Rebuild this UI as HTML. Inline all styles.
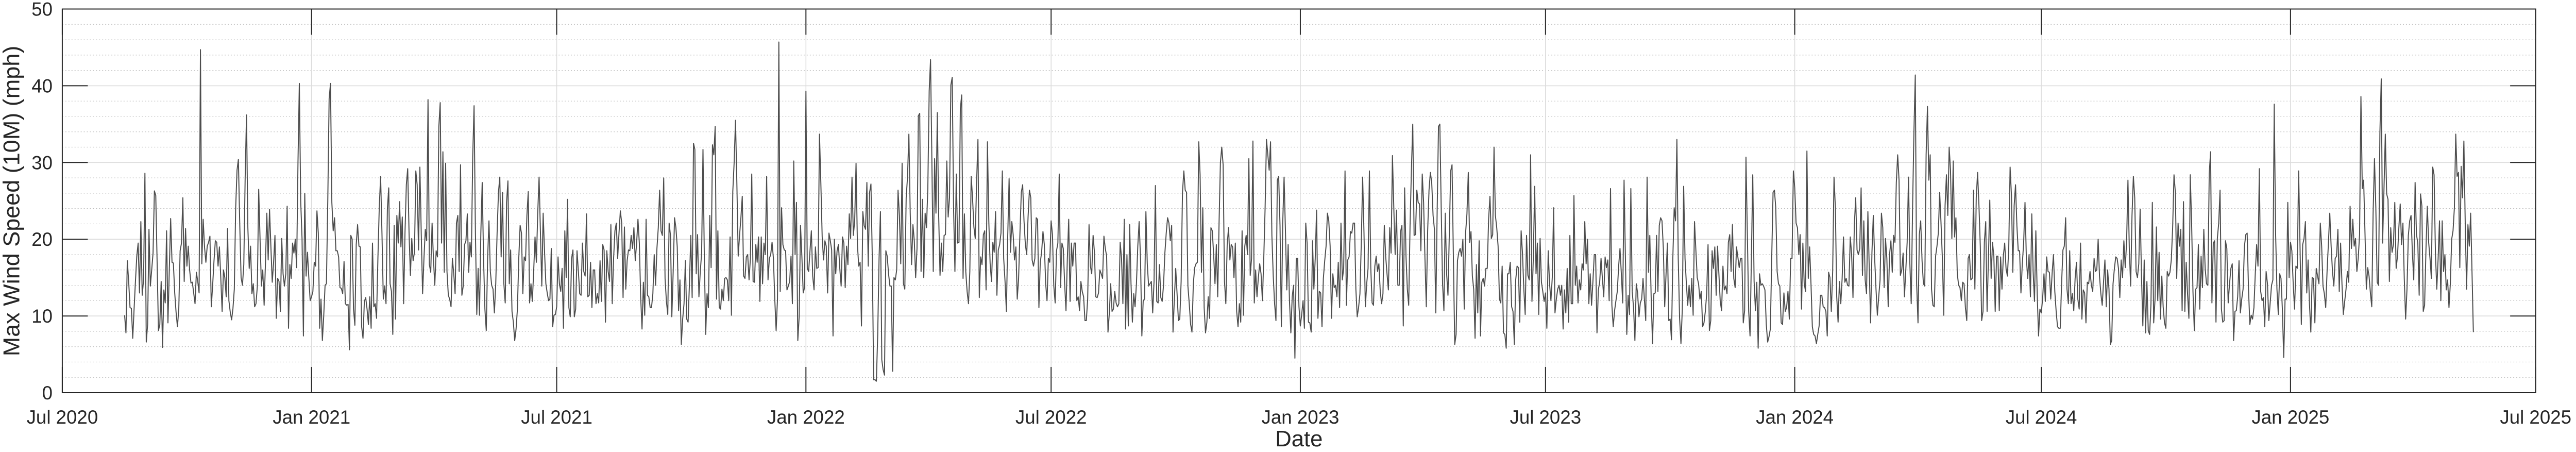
<!DOCTYPE html>
<html><head><meta charset="utf-8">
<style>
html,body{margin:0;padding:0;background:#fff;overflow:hidden;width:100%;height:100%;}
svg{display:block;position:fixed;left:0;top:0;width:100vw;height:100vh;font-family:"Liberation Sans",Arial,sans-serif;}
</style></head>
<body>
<svg id="chart" viewBox="0 0 5045 877" preserveAspectRatio="none" xmlns="http://www.w3.org/2000/svg">
<g id="grid"></g>
<g id="series"></g>
<g id="axes"></g>
<text x="0" y="0" transform="translate(38,390) rotate(-90)" text-anchor="middle" font-size="45" fill="#262626">Max Wind Speed (10M) (mph)</text>
<text x="2544" y="866" text-anchor="middle" font-size="44" fill="#262626">Date</text>
</svg>
<script>
const startDay = 46; // days after Jul 1 2020 of first observation
const yTicks = [0,10,20,30,40,50];
const xTickDays = [0,184,365,549,730,914,1095,1279,1461,1645,1826];
const xTickLabels = ["Jul 2020","Jan 2021","Jul 2021","Jan 2022","Jul 2022","Jan 2023","Jul 2023","Jan 2024","Jul 2024","Jan 2025","Jul 2025"];
const speeds2020 = [10.1,7.8,17.2,14.5,11.1,11,7.1,10.9,14.5,17.8,19.5,13,22.3,12.7,14.7,28.6,6.6,8.9,21.3,13.9,16,18.2,26.3,25.7,17,8.1,8.9,14.5,5.9,13.4,11.7,21.1,9.1,16,22.7,17,16.9,13,10.5,8.6,10.9,18.5,19.5,25.4,14.5,21.4,16.5,19.1,16,14.3,14.4,13,11.6,15.7,14.5,13,44.7,16.8,22.6,19,17,19.1,19.6,20.4,11.2,14,17.2,19.8,19.6,16.5,19,15,10.6,16,15,12.5,21.4,12,10.5,9.5,11,13.5,24.1,29,30.4,22,15,14,16.7,28,36.2,21.5,16.2,19.1,12.9,14.2,11.2,11.6,13.9,26.5,20,13.9,16,11.4,17,23.4,17.3,23.9,19,14.4,17,20.5,9.7,14.9,14.5,10.6,20.1,15.5,13.9,15.5,24.3,8.4,16.7,14.9,19.5,18.2,20,16.3,30,40.3,25,20.1,7.4,26,15.2,18.3,15,12,12.5,13.2,17,16.5,23.7,20.8,8.4,12.2,6.8,10,14,14.2,25,38.3,40.3,24.8,21.1,22.8,18.5,18.5,17.7,13.7,13.6,12.9,17.1,11.6,11.4,11.5,5.6,20.5,20,10.9,8.8,19.3,21.9,19.1,19];
const speeds2021 = [8.6,7.1,11.9,12.4,10.9,8.9,12.5,8.4,19.5,11.2,11.6,9.7,17.5,24.1,28.2,20.8,12.2,13.9,11.6,23.9,26.7,14.2,13.2,7.6,21.8,9.6,23.1,19.5,24.9,19,22.9,11.6,20.8,27.1,29.2,20.8,15.3,20.1,17.2,18.3,28.9,27.1,18.6,29.4,20.8,12.9,17.5,21.3,19.8,38.2,16.7,15.7,22.1,17.5,14,18.5,17.7,34.7,37.8,19.5,31.4,15.7,29.9,15.8,12.7,12.2,11.2,17.5,15.5,12.9,22.1,23.1,15.8,29.7,12.7,13.9,19.3,19.8,23.3,15.7,19.6,17.7,30.7,37.4,20.8,10.2,16.2,10.1,20.8,27.4,17.5,10.9,8.1,17.5,22.4,15.8,14,13.5,10.4,14.2,20.8,26.1,28.1,17.7,26.1,14.2,11.7,24.8,27.6,14.2,18.6,10.6,9.2,6.8,8.3,10.9,17.5,21.8,20.8,12.9,17.7,17.2,23.1,26.2,11.7,14.2,11.9,15.8,20.3,17,23.4,28.1,20.8,13.9,23.4,18.5,14.2,13,12,12.2,18.8,8.6,10.1,10.2,11.2,17.7,14.2,13.2,16.2,8.4,21.1,15,25.2,11.1,9.9,17.5,18.6,9.9,10.9,18.5,15.8,12.9,12.7,19.5,15.8,15.2,23.3,12.5,12.7,17,11.1,16];
const speeds2021b = [16,11.6,12.9,11.7,17.2,11.9,19.3,18.6,9.2,18.5,15.8,14.5,21.9,11.6,17.5,21.1,22.1,17.5,20.8,23.7,22.1,12.4,21.6,13.5,17.2,18.6,18.5,20.5,18.8,21.5,17.2,19.5,22.6,19.5,12.5,8.3,14.4,10.1,22.6,12.7,12.5,11.1,11.1,12.9,18,14,18.8,21.5,26.4,21.1,20.5,28,14.9,11.9,10.2,22.1,20.5,9.9,15.8,22.8,21.5,19,10.7,14.7,6.3,9.6,11.6,17.2,9.6,9.2,14.2,20.5,12.4,32.5,31.7,15.5,20.6,12.5,15.8,18.2,31.7,17.5,7.6,12.9,11.1,23.1,16.3,32.3,31,34.7,12.2,21.1,11.1,10.9,13.5,12,14.9,15,14.7,12,20.3,10.1,26.2,30,35.5,27.4,17.8,20.5,22.8,25.6,15.2,14.9,17.7,18,14.7,17.5,28.5,14.5,14.4,19.3,17,20.3,11.9,20.3,14.2,19.5,18,28.2,14.7,17.5,18,19.6,17.5,12.2,8.1,12.2,45.7,13.2,24.1,19.3,18.6,18.5,13.4,13.9,14.5,17.8,11.6,30.2,18,24.8,6.8,9.9,21.8,17.8,13,13.7,39.3,16.2,15.8,18.5,21.1,15.2,13.4,19,16.2,16.3,33.7,27.4,20.3,17.3,19.8,19.1,13];
const speeds2022 = [20.8,19.8,18.6,7.4,20,15.5,18.5,19.3,16.2,13.9,20.3,19.5,13.7,19.1,16.7,23.3,20.1,28.1,20.5,22.4,29.9,19.3,16.5,17,8.7,23.6,21.8,21.3,27.4,16.5,26.1,27.2,17.5,1.7,1.7,1.5,7.6,17.5,23.6,4.3,3,2.3,18.5,17.8,15.5,13.9,13.9,2.8,15,14.7,16,26.4,23.1,16.8,29.9,14.2,13.5,25.4,28.1,33.7,23.4,16.7,21.9,19.8,15,18.8,36.1,36.4,15.8,25.2,15,23.4,21.5,26.7,39.3,43.4,30,15.8,30.5,23.4,36.5,23.1,15.3,19.5,15.8,20.5,20.6,30.2,22.9,25.4,40.1,41.1,24.1,15.8,28.5,19.5,19.6,37,38.8,14.9,23.3,15.8,13.2,11.6,15.8,28.2,25.4,21.6,20.1,27.4,33,12.4,17.7,16.7,20.6,21.1,13.4,32.7,22.4,16.8,14.5,19.6,18.3,23.6,12.7,18.6,19.3,20.8,28.9,17.5,14.5,10.6,20.5,27.9,18.3,22.3,20.6,17.3,19,12.2,14.9,20.8,26.1,27.1,22.4,19.3,18,22.9,26.4,25.4,17.3,16.5,17.5,22.8,22.6,11.1,17,18.3,21,19.3,14.2,12,17.5,17,22.4,20.6,13.9,11.7,18.5,19.5,28.5,13.7];
const speeds2022b = [19.5,18.8,14.2,10.7,17.5,22.6,11.9,19.5,16.5,19.5,19.5,12,12.5,10.7,14.5,13.2,12.5,9.4,9.4,12.2,21.9,16.5,15.5,20.5,18.3,12.5,12.4,13,16,15.5,14.9,20.4,18.8,17.8,7.9,10.4,14.2,10.6,10.9,13.2,11.7,11.2,11.6,19.6,17.5,11.6,22.6,8.3,18,8.7,21.9,14.2,9.2,12.9,11.2,14.2,19.1,22.3,17.5,7.4,12,12.2,23.6,16.8,13.9,14.2,14.5,10.4,14.5,27,11.9,11.7,16.7,12.4,11.9,14,18.2,20.8,22.8,22.1,19.8,21.8,7.9,12.2,16.2,12.9,9.4,9.6,14.5,26.1,28.9,26.4,26.1,13.9,11.6,8.9,7.9,14.2,16.3,16.8,17,32.7,28.4,15.7,24.1,11.1,7.8,9.2,12.5,9.7,21.5,21.1,18,14.2,19.3,12.5,22.1,30,32,29.7,14.5,11.6,19.3,21.5,17.3,19.3,19,15,19.5,10.6,8.6,11.6,9.2,21.1,10.1,19.1,20.5,18,30.5,15.3,17.5,32.8,11.7,16,12.5,15,16.8,15.5,12,17.5,24.1,33,31,29,32.7,20.5,15.2,11.6,9.4,27.7,28.2,21.8,8.6,22.1,28.1,21.1,13.4,19.3,11.9,7.8,12.5,14];
const speeds2023 = [4.5,17.5,17.5,11.2,8.7,10.2,12,8.4,22.1,19.5,9.2,9.1,7.9,19.8,13.5,17.5,23.8,9.7,13.2,13,8.6,14.9,17.2,19.1,23.4,22.4,19.1,9.7,15.5,13.7,14,12.5,17,11.1,22.1,14.7,16.2,28.9,11.4,17.3,17.7,21,20.8,22.1,22.1,13.5,9.9,11.1,12.9,19.5,28.1,20.8,11.2,14.2,16.2,28.9,16.3,11.7,11.4,16.5,17.8,15.8,16.8,13.2,11.6,12.9,21.8,17.8,15.5,13.4,21.5,18.2,30.9,24.1,18,23.8,14,14,21,21.8,8.7,26.7,17.8,13.5,11.4,21.8,29,35,20.5,20.6,26.4,24.8,24.6,18.5,28.5,24.8,17.5,11.2,21.1,26.4,28.7,27.4,23.1,21.3,10.4,23.4,34.7,35,24.1,14.2,10.7,23.4,15.5,12.7,20.8,28.9,29.7,17.5,6.3,7.6,17.2,18.3,18.8,17.8,20,10.9,20.8,23.3,28.7,19.6,21,15.2,13.5,7.1,16.7,10.4,19.8,7.4,14.4,14.9,13.9,16.2,16.2,22.6,25.6,20.1,20.6,32,23.1,21.5,19.1,12.2,11.7,16.5,7.8,7.6,5.8,15.5,15.5,17,11.2,10.6,6.3,14.7,16.5,16.3,9.2,21.1,18.2,13.5,10.2,20.5];
const speeds2023b = [15.3,14.7,31,11.9,17.5,26.9,15.5,19.5,10.2,20.1,14.4,13.2,11.9,13,8.4,18.5,14.2,12,15,24.1,10.4,12.2,13.5,14,12.7,14,8.3,13.4,10.4,16.2,9.2,20.5,11.6,11.6,25.7,14,16.5,11.7,14.7,13.4,16.8,16,22.3,16.8,20,11.6,15.5,11.4,14.5,18,18,7.8,13.4,14.4,17.5,14.9,12.5,17.7,16.3,17.3,12,26.6,11.4,8.6,10.7,12,13.2,16.5,18.8,15.5,11.7,27.7,17.5,7.6,12.7,10.2,26.6,13.2,11.1,6.8,14.2,13,9.9,11.7,12.2,14.9,12.2,9.4,28.1,15.7,20.5,12.5,6.4,12.9,13,20.5,13.2,21.8,22.8,22.4,18.8,11.2,15.5,19.5,9.4,9.6,6.9,17.5,24.1,22.4,33,17.5,9.7,6.4,10.9,26.9,17.5,14.2,11.4,14,11.2,14.9,10.1,22.3,18.6,15,14.2,12.2,13.2,8.6,9.1,10.6,12.9,19.3,8.1,9.4,18.5,16.2,19,12.7,19.1,15.5,11.9,10.7,16.5,13.4,13.9,12.9,19.6,20.6,15.8,21.9,14.9,13.7,19,17.7,16.3,17.5,17.5,9.1,10.7,30.7,20.8,10.6,7.4,17.5,28.4,14.5,10.7,14.4,5.8,15.5,14,14.2];
const speeds2024 = [13.9,13.4,8.9,6.6,7.3,8.3,17.5,26.1,26.4,24.1,15.8,14.2,13.9,9.1,8.9,13,10.6,11.1,13.2,9.6,17.5,17.5,28.9,26.7,22.1,21.5,18,20.6,10.9,19.5,14.2,13.2,31.5,14.9,19,14.2,8.6,7.6,7.4,6.4,7.6,8.7,12.7,12.7,11.2,11.1,10.6,7.4,15.7,15,10.6,15.8,28.1,24.1,12.5,9.2,14.5,11.6,14.9,20.3,14.4,14.9,14,13.9,20.3,18,12.4,21.9,25.4,18.6,18,18.8,26.7,15.3,22.4,14.7,12.9,23.6,16.3,9.1,18.3,23.1,17.5,13.5,10.1,12.5,14.7,23.4,21.5,13.7,20.1,17.5,11.2,18,19.8,15.7,20.5,19.6,27.4,31,27.7,15.3,16,18.2,12.5,16,19.6,28.1,16.8,11.6,24.1,34,41.4,14.2,9.1,20.6,22.4,17.2,14.2,13.9,31,37.3,27.7,31,13.5,11.4,11.2,17.8,19.1,20.8,26.1,22.1,17.5,10.1,24.4,28.4,23.1,32,29,20.1,30.2,20.3,22.8,15.5,14,13.7,12,14.4,14.2,11.1,9.4,17.5,18,14.7,14.9,26.4,13.5,25.4,28.7,24.4,19.1,9.4,10.6,19.6,22.3,10.6,17.5,25.1,14.9,19.6,17.8,10.6,17.8,17.8];
const speeds2024b = [10.7,17.7,13.5,17.8,19.5,16.2,15.2,18.8,29.4,25.7,15.7,24.4,27.1,21.8,18.5,18.5,13,16.8,19.5,24.8,17.5,14.9,18,12.5,23.3,15.8,11.9,21.1,12.9,7.4,10.9,10.4,12.2,15.5,11.9,17.7,15.8,15.7,12.2,15.5,18,13.2,10.6,8.6,8.4,8.4,14.2,18.6,19.1,22.8,13.5,11.6,18.5,11.6,12.9,10.7,14.9,17,12.2,10.9,19.5,9.6,13.4,13,9.1,14.4,14.2,15.8,14,13.2,17.5,15.8,16,20,15.2,12.9,11.4,14.5,17.3,11.2,16,13.5,6.3,6.8,14.2,16.2,17.7,17.5,16.2,12.4,17.3,15,19.8,16.3,19.6,27.7,18.8,13.9,23.1,28.2,25.4,15.8,15,16.8,23.9,15.2,8.7,17.3,7.8,14.5,8.1,7.6,11.6,24.8,9.1,12.2,21.6,12,18.3,9.6,15.2,11.2,9.1,8.4,15.8,15.2,15.7,17.3,21.5,28.4,26.1,14.9,22.1,19.1,21.3,10.7,24.9,10.6,17,12.9,9.7,28.4,22.1,13.2,8.1,13.5,13.7,19.3,10.9,17.8,13.7,21.3,16.2,14.2,14,28.5,31.4,11.7,19.5,19.8,9.2,20.1,22.1,26.4,10.9,9.2,9.4,19.8,18.8,11.7,14.2,16.2,16.8,6.8,10.6];
const speeds2025 = [10.7,12.5,17.2,10.4,12.2,13.5,19.1,20.6,20.8,13.5,8.9,10.1,9.6,11.1,15.5,19.3,16.5,29.2,13.2,12,12.4,8.6,15.8,14.2,9.4,11.7,14,14.7,37.6,20.8,13.5,10.2,15.5,14.9,10.9,4.6,12.2,12.2,24.8,15,19.6,18.5,14.2,10.9,16.5,16.2,28.9,19.5,8.9,19.3,20.1,22.3,13,17.3,11.6,7.9,15,14.9,9.1,16.2,15.2,14.2,22.1,19.1,13.9,12.9,11.1,15.8,19.5,23.4,19.1,15.8,13.9,17.5,17.8,21.3,13.2,19.5,14.2,10.2,11.9,13.5,15.8,14.4,24.3,18.8,22.6,19.1,20.1,15.8,17.5,20.6,38.6,26.6,27.7,20.8,13.5,16.3,15.2,13,11.2,23.4,30.5,24.1,14.4,14,33.8,40.9,19.5,26.4,33.7,25.9,25.2,14.5,21.5,18.3,19.3,24.8,16.2,17.8,21.5,24.6,19.3,22.1,14.9,9.6,13.5,20.5,22.4,23.1,18.2,14.7,27.4,20.6,19.5,12.7,25.9,24.3,10.6,11.4,18.6,24.3,19.6,17.5,14.9,29.4,28.4,18.2,13.5,17.5,22.4,12,22.4,15.8,18,13.4,14.7,11.1,14.2,20,21.1,24.1,33.7,28.2,28.7,16.3,29.5,25.4,32.8,22.1,13.5,21.9,19.1,23.4,15.8,7.9];

const speeds = [].concat(speeds2020, speeds2021, speeds2021b, speeds2022, speeds2022b, speeds2023, speeds2023b, speeds2024, speeds2024b, speeds2025);

const NS = "http://www.w3.org/2000/svg";
const L = 122, R = 4966, T = 17.5, B = 762;
const xMax = 1826, yMax = 50;
function xs(d){ return L + (d / xMax) * (R - L); }
function ys(v){ return B - (v / yMax) * (B - T); }
function mk(tag, attrs, parent){
  const e = document.createElementNS(NS, tag);
  for (const k in attrs) e.setAttribute(k, attrs[k]);
  parent.appendChild(e);
  return e;
}
const grid = document.getElementById('grid');
const axes = document.getElementById('axes');
const series = document.getElementById('series');

for (let v = 2; v < yMax; v += 2) {
  if (v % 10 === 0) continue;
  const g = mk('line', {x1:L, x2:R, y1:ys(v), y2:ys(v), stroke:'#bdbdbd', 'stroke-width':1.2, 'stroke-dasharray':'2,4'}, grid);
  
  
}
yTicks.forEach(v => {
  const y = ys(v);
  if (v > 0 && v < yMax) {
    const g = mk('line', {x1:L, x2:R, y1:y, y2:y, stroke:'#dcdcdc', 'stroke-width':1.6}, grid);
    
    
  }
  const t1 = mk('line', {x1:L, x2:L+50, y1:y, y2:y, stroke:'#262626', 'stroke-width':2}, axes);
  
  
  const t2 = mk('line', {x1:R-50, x2:R, y1:y, y2:y, stroke:'#262626', 'stroke-width':2}, axes);
  
  
  const lb = mk('text', {x:103, y:y+13, 'text-anchor':'end', 'font-size':37, fill:'#262626'}, axes);
  lb.textContent = String(v);
  
  
});
xTickDays.forEach((d, i) => {
  const x = xs(d);
  if (i > 0 && i < xTickDays.length - 1) {
    const g = mk('line', {x1:x, x2:x, y1:T, y2:B, stroke:'#dcdcdc', 'stroke-width':1.6}, grid);
    
    
  }
  const t1 = mk('line', {x1:x, x2:x, y1:B-50, y2:B, stroke:'#262626', 'stroke-width':2}, axes);
  
  
  const t2 = mk('line', {x1:x, x2:x, y1:T, y2:T+50, stroke:'#262626', 'stroke-width':2}, axes);
  
  
  const lb = mk('text', {x:x, y:822, 'text-anchor':'middle', 'font-size':37, fill:'#262626'}, axes);
  lb.textContent = xTickLabels[i];
  
  
});
const box = mk('rect', {x:L, y:T, width:R-L, height:B-T, fill:'none', stroke:'#262626', 'stroke-width':2}, axes);



let dstr = '';
speeds.forEach((v, i) => {
  dstr += (i === 0 ? 'M' : 'L') + xs(startDay + i).toFixed(2) + ',' + ys(v).toFixed(2);
});
const line = mk('path', {d:dstr, fill:'none', stroke:'#4d4d4d', 'stroke-width':2, 'stroke-linejoin':'round'}, series);


</script>
</body></html>
